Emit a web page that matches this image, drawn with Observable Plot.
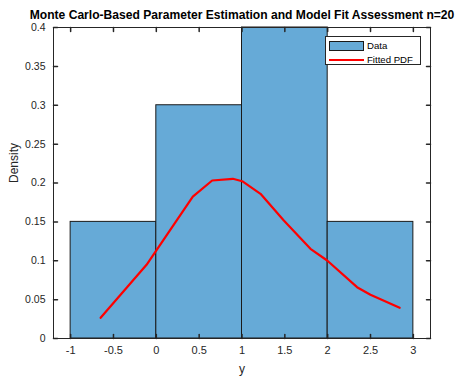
<!DOCTYPE html>
<html>
<head>
<meta charset="utf-8">
<script src="https://cdn.jsdelivr.net/npm/d3@7"></script>
<script src="https://cdn.jsdelivr.net/npm/@observablehq/plot@0.6"></script>
<style>
  html, body { margin: 0; padding: 0; background: #fff; }
  #wrap { position: relative; width: 473px; height: 378px; font-family: "Liberation Sans", Arial, Helvetica, sans-serif; }
  #legend { position: absolute; left: 325px; top: 36px; width: 96px; height: 29px; border: 1px solid #262626; background: #fff; box-sizing: border-box; font-size: 9.6px; color: #000; }
  #legend .row { position: absolute; left: 3px; display: flex; align-items: center; }
  #legend .sw { width: 35px; height: 10px; box-sizing: border-box; border: 1px solid #1a1a1a; background: #66aad7; margin-right: 3px; }
  #legend .ln { width: 35px; height: 2px; background: #ff0000; margin-right: 3px; }
</style>
</head>
<body>
<div id="wrap">
  <div id="chart"></div>
  <div id="legend">
    <div class="row" style="top:3px"><div class="sw"></div><span>Data</span></div>
    <div class="row" style="top:17px"><div class="ln"></div><span>Fitted PDF</span></div>
  </div>
</div>
<script>
const titleText = "Monte Carlo-Based Parameter Estimation and Model Fit Assessment n=20";
const binLeft = [-1, 0, 1, 2];
const binRight = [0, 1, 2, 3];
const density = [0.15, 0.30, 0.40, 0.15];
const pdfX = [-0.65, -0.114, 0.426, 0.652, 0.893, 1.002, 1.216, 1.488, 1.799, 1.994, 2.343, 2.499, 2.840];
const pdfY = [0.0266, 0.0948, 0.1826, 0.2032, 0.2054, 0.2023, 0.1861, 0.1518, 0.1154, 0.1003, 0.0660, 0.0562, 0.0395];
const xTicks = [-1, -0.5, 0, 0.5, 1, 1.5, 2, 2.5, 3];
const yTicks = [0, 0.05, 0.1, 0.15, 0.2, 0.25, 0.3, 0.35, 0.4];

const bins = binLeft.map((l, i) => ({x1: l, x2: binRight[i], y: density[i]}));
const pdf = pdfX.map((x, i) => ({x, y: pdfY[i]}));
const axisColor = "#262626";
const tickShape = {draw(ctx, l) { ctx.moveTo(0, 0); ctx.lineTo(0, -l); }};
const xDom = [-1.2, 3.2], yDom = [0, 0.4];

const chart = Plot.plot({
  width: 473,
  height: 378,
  marginLeft: 53,
  marginRight: 43,
  marginTop: 27,
  marginBottom: 40,
  style: {fontFamily: '"Liberation Sans", Arial, Helvetica, sans-serif', background: "#fff", color: axisColor},
  x: {domain: xDom},
  y: {domain: yDom},
  marks: [
    Plot.rectY(bins, {x1: "x1", x2: "x2", y: "y", fill: "#66aad7", stroke: "#1a1a1a", strokeWidth: 1}),
    Plot.line(pdf, {x: "x", y: "y", stroke: "#ff0000", strokeWidth: 2.2}),
    Plot.frame({stroke: axisColor, strokeWidth: 1}),
    Plot.vector(xTicks, {x: d => d, y: yDom[0], length: 4, rotate: 0, anchor: "start", shape: tickShape, stroke: axisColor}),
    Plot.vector(xTicks, {x: d => d, y: yDom[1], length: 4, rotate: 180, anchor: "start", shape: tickShape, stroke: axisColor}),
    Plot.vector(yTicks, {y: d => d, x: xDom[0], length: 4, rotate: 90, anchor: "start", shape: tickShape, stroke: axisColor}),
    Plot.vector(yTicks, {y: d => d, x: xDom[1], length: 4, rotate: -90, anchor: "start", shape: tickShape, stroke: axisColor}),
    Plot.axisX(xTicks, {tickSize: 0, tickPadding: 8, fontSize: 11, label: null, tickFormat: d => String(d), fill: axisColor}),
    Plot.axisY(yTicks, {tickSize: 0, tickPadding: 8, fontSize: 10.5, label: null, tickFormat: d => String(d), fill: axisColor}),
    Plot.text(["y"], {frameAnchor: "bottom", dy: 34, fontSize: 12, fill: axisColor}),
    Plot.text(["Density"], {frameAnchor: "left", dx: -39, rotate: -90, fontSize: 12, fill: axisColor}),
    Plot.text([titleText], {frameAnchor: "top", dy: -17.5, fontSize: 12.1, fontWeight: "bold", fill: "#000"})
  ]
});
document.getElementById("chart").appendChild(chart);
</script>
</body>
</html>
